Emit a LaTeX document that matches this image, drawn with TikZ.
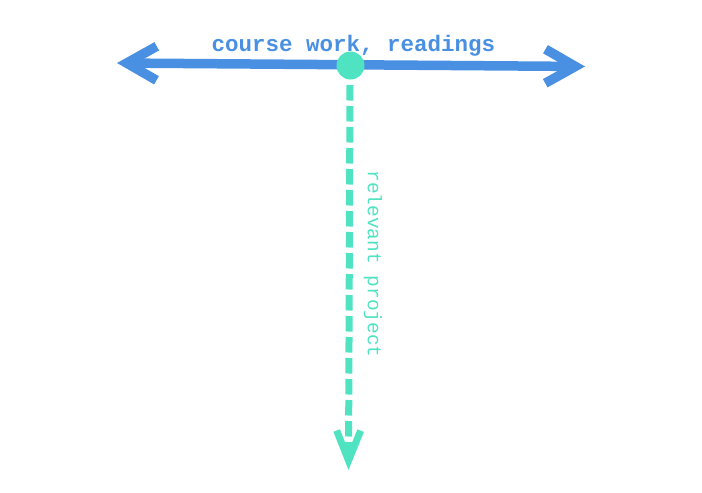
\documentclass[tikz,border=0pt]{standalone}
\usepackage{fontspec}
\setmonofont{Liberation Mono}
\usetikzlibrary{arrows.meta}
\definecolor{cblue}{HTML}{4A90E2}
\definecolor{cteal}{HTML}{50E3C2}
\tikzset{
  mainaxis/.style={draw=cblue,line width=9.5pt,{Straight Barb[length=30pt,width=34pt]}-{Straight Barb[length=30pt,width=34pt]}},
  sideaxis/.style={draw=cteal,line width=7pt,dash pattern=on 15.5pt off 5.5pt,-{Straight Barb[length=30pt,width=24pt]}},
  hub/.style={circle,fill=cteal,minimum size=28pt,inner sep=0pt},
  toplabel/.style={text=cblue,font=\ttfamily\bfseries\fontsize{22.5}{26}\selectfont,anchor=base},
  sidelabel/.style={text=cteal,font=\ttfamily\fontsize{19.5}{23}\selectfont,rotate=-90},
}
\begin{document}
\begin{tikzpicture}[x=1pt,y=-1pt]
\useasboundingbox (0,0) rectangle (702,493);
\coordinate (L) at (117,63);
\coordinate (R) at (585,66.5);
\coordinate (T) at (350,85);
\coordinate (B) at (348.5,470);
\draw[mainaxis] (L) -- (R);
\draw[sideaxis] (T) -- (B);
\node[hub] (h) at (350.5,65.5) {};
\node[toplabel] (top) at (353.5,51) {course work, readings};
\node[sidelabel] (side) at (373,264) {relevant project};
\end{tikzpicture}
\end{document}
